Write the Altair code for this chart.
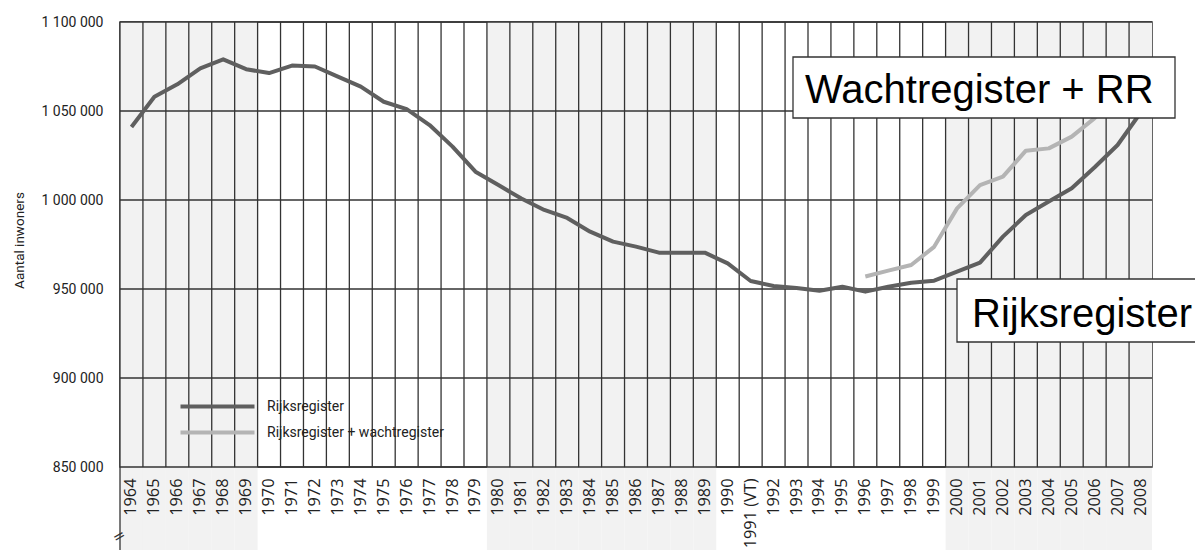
import altair as alt
import pandas as pd

# ---- data ----
year_labels = [str(y) for y in range(1964, 1991)] + ["1991 (VT)"] + [str(y) for y in range(1992, 2009)]
shaded_labels = [str(y) for y in range(1964, 1970)] + [str(y) for y in range(1980, 1990)] + [str(y) for y in range(2000, 2009)]

rr_values = [
    1041000, 1058000, 1065000, 1074000, 1079000, 1073500,
    1071300, 1075500, 1075000, 1069300, 1063700, 1055200, 1051100, 1042100, 1030000, 1015900,
    1008400, 1000800, 994400, 989900, 982200, 976600, 973800, 970400, 970400, 970400,
    964400, 954500, 951700, 950600, 949000, 951300, 948500, 951300, 953500, 954700,
    959700, 964800, 979400, 991600, 999100, 1006600, 1018400, 1030900, 1049000,
]
wr_labels = [str(y) for y in range(1996, 2009)]
wr_values = [957000, 960300, 963500, 973700, 995300, 1008400, 1013100, 1027700,
             1029000, 1035600, 1046000, 1058000, 1070000]

y_ticks = [850000, 900000, 950000, 1000000, 1050000, 1100000]
series_names = ["Rijksregister", "Rijksregister + wachtregister"]
series_colors = ["#5f5f5f", "#b4b4b4"]
ann_top = ["Wachtregister + RR"]
ann_bottom = ["Rijksregister"]

# ---- tables ----
df_lines = pd.concat([
    pd.DataFrame({"year": year_labels, "value": rr_values, "series": series_names[0]}),
    pd.DataFrame({"year": wr_labels, "value": wr_values, "series": series_names[1]}),
])
df_years = pd.DataFrame({"year": year_labels})
df_shade = pd.DataFrame({"year": shaded_labels})
df_yt = pd.DataFrame({"value": y_ticks})

W, H = 1032, 445
BOTTOM = 83
LABEL_FONT = "Roboto, sans-serif"
XLABEL_FONT = "Open Sans, sans-serif"
GRID = "#333333"

xscale = alt.Scale(type="band", domain=year_labels, paddingInner=0, paddingOuter=0)
xaxis = alt.Axis(title=None, labelAngle=-90, labelFont=XLABEL_FONT, labelFontSize=16.3,
                 labelColor="#222222", labelPadding=11, ticks=False, domain=False,
                 grid=False, labelOverlap=False, labelBound=False, labelFlush=False,
                 labelLimit=200)
yscale = alt.Scale(domain=[850000, 1100000], nice=False, zero=False)
yaxis = alt.Axis(values=y_ticks, title="Aantal inwoners", titleFont=LABEL_FONT,
                 titleFontSize=13.5, titleFontWeight="normal", titleColor="#222222",
                 titleX=-94, titleY=218,
                 labelExpr="replace(format(datum.value, ','), regexp(',', 'g'), ' ')",
                 labelFont=LABEL_FONT, labelFontSize=14, labelColor="#222222",
                 labelPadding=17, ticks=False, domain=False, grid=False)

shade = alt.Chart(df_shade).mark_rect(fill="#f2f2f2").encode(
    x=alt.X("year:N", scale=xscale, axis=xaxis),
    y=alt.value(0), y2=alt.value(H + BOTTOM),
)

vgrid = alt.Chart(df_years).mark_rule(color=GRID, strokeWidth=1.3).encode(
    x=alt.X("year:N", scale=xscale, axis=xaxis, bandPosition=0),
)

hgrid = alt.Chart(df_yt).mark_rule(color=GRID, strokeWidth=1.3).encode(
    y=alt.Y("value:Q", scale=yscale, axis=yaxis),
)

lines = alt.Chart(df_lines).mark_line(strokeWidth=4, strokeJoin="round").encode(
    x=alt.X("year:N", scale=xscale, axis=xaxis),
    y=alt.Y("value:Q", scale=yscale, axis=yaxis),
    color=alt.Color("series:N", scale=alt.Scale(domain=series_names, range=series_colors),
                    legend=alt.Legend(title=None, orient="none", legendX=88, legendY=375,
                                      symbolType="M-5,0H5", symbolSize=219,
                                      symbolStrokeWidth=4, labelOffset=40,
                                      labelFont=LABEL_FONT, labelFontSize=14,
                                      labelColor="#222222", rowPadding=8, padding=0,
                                      labelLimit=400)),
    detail="series:N",
)

axis_ext = alt.Chart(df_shade.head(1)).mark_rule(color=GRID, strokeWidth=1.3).encode(
    x=alt.value(0), y=alt.value(H), y2=alt.value(H + BOTTOM),
)
axis_break = alt.Chart(df_shade.head(1)).mark_text(text="=", fontSize=15, angle=330,
                                                   color=GRID, font="DejaVu Sans").encode(
    x=alt.value(-1), y=alt.value(514),
)

box1 = alt.Chart(pd.DataFrame({"label": ann_top})).mark_rect(
    fill="white", stroke="#333333", strokeWidth=1.3).encode(
    x=alt.value(673), x2=alt.value(1055), y=alt.value(35), y2=alt.value(96))
text1 = alt.Chart(pd.DataFrame({"label": ann_top})).mark_text(
    align="left", baseline="alphabetic", font="Liberation Sans, Arial, sans-serif",
    fontSize=40, color="#000000").encode(x=alt.value(685), y=alt.value(81), text="label:N")

box2 = alt.Chart(pd.DataFrame({"label": ann_bottom})).mark_rect(
    fill="white", stroke="#333333", strokeWidth=1.3).encode(
    x=alt.value(837), x2=alt.value(1083), y=alt.value(257), y2=alt.value(320))
text2 = alt.Chart(pd.DataFrame({"label": ann_bottom})).mark_text(
    align="left", baseline="alphabetic", font="Liberation Sans, Arial, sans-serif",
    fontSize=40, color="#000000").encode(x=alt.value(852), y=alt.value(305), text="label:N")

chart = alt.layer(shade, vgrid, hgrid, lines, axis_ext, axis_break, box1, text1, box2, text2).properties(
    width=W, height=H, autosize="none",
    padding={"left": 112, "top": 14, "right": 43, "bottom": BOTTOM},
).configure_view(stroke=GRID, strokeWidth=1.5)

chart.save("out.html", embed_options={"renderer": "svg", "actions": False})
